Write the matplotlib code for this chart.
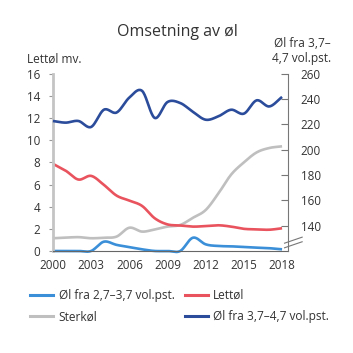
import numpy as np
import matplotlib
matplotlib.use("Agg")
import matplotlib.pyplot as plt
from matplotlib.lines import Line2D

plt.rcParams['font.family'] = ['Open Sans', 'DejaVu Sans']

#------------------------------------------------------------------------------
# Data
#------------------------------------------------------------------------------
years = list(range(2000, 2019))

# left axis (Lettøl mv.)
ol_27_37 = [0.0, 0.0, 0.0, 0.0, 0.84, 0.55, 0.35, 0.15, 0.0, 0.0,
            0.0, 1.2, 0.6, 0.45, 0.42, 0.35, 0.3, 0.25, 0.15]
lettol = [7.87, 7.25, 6.45, 6.78, 5.97, 5.0, 4.55, 4.07, 2.95, 2.4,
          2.3, 2.2, 2.25, 2.32, 2.2, 2.0, 1.95, 1.92, 2.05]
sterkol = [1.15, 1.2, 1.25, 1.15, 1.2, 1.3, 2.1, 1.75, 1.95, 2.2,
           2.35, 3.0, 3.7, 5.2, 6.9, 8.0, 8.9, 9.3, 9.45]
# right axis (Øl fra 3,7-4,7 vol.pst.)
ol_37_47 = [222.7, 221.4, 222.7, 218.0, 231.6, 229.4, 241.2, 246.5, 225.1, 237.7,
            236.9, 229.9, 223.7, 226.4, 231.6, 228.5, 239.0, 234.2, 241.7]

left_ticks = [0, 2, 4, 6, 8, 10, 12, 14, 16]
right_ticks = [140, 160, 180, 200, 220, 240, 260]
x_ticks = [2000, 2003, 2006, 2009, 2012, 2015, 2018]

c_lblue = '#3a8fd8'
c_red = '#e9535d'
c_gray = '#bfbfbf'
c_dblue = '#2b4c9b'
c_txt = '#333333'


def smooth(x, y, n=20):
  # catmull-rom curve through the annual points (for drawing only)
  x = np.asarray(x, float)
  y = np.asarray(y, float)
  m = np.zeros_like(y)
  m[1:-1] = (y[2:] - y[:-2]) / 2.
  m[0] = y[1] - y[0]
  m[-1] = y[-1] - y[-2]
  xs, ys = [], []
  for i in range(len(x) - 1):
    t = np.linspace(0, 1, n, endpoint=False)
    h00 = 2*t**3 - 3*t**2 + 1
    h10 = t**3 - 2*t**2 + t
    h01 = -2*t**3 + 3*t**2
    h11 = t**3 - t**2
    xs.append(x[i] + t*(x[i+1] - x[i]))
    ys.append(h00*y[i] + h10*m[i] + h01*y[i+1] + h11*m[i+1])
  xs.append([x[-1]])
  ys.append([y[-1]])
  return np.concatenate(xs), np.concatenate(ys)


fig = plt.figure(figsize=(3.53, 3.53), dpi=100)
ax = fig.add_axes([0.150, 0.289, 0.666, 0.502])
ax2 = ax.twinx()

lw = 1.9
for vals, col in [(sterkol, c_gray), (lettol, c_red), (ol_27_37, c_lblue)]:
  xs, ys = smooth(years, vals)
  ax.plot(xs, ys, color=col, lw=lw, solid_capstyle='butt', clip_on=False)
xs, ys = smooth(years, ol_37_47)
ax2.plot(xs, ys, color=c_dblue, lw=lw, solid_capstyle='butt', clip_on=False)

ax.set_xlim(2000, 2018.47)
ax.set_ylim(0, 16)
ax2.set_ylim(120, 260)

ax.set_xticks(x_ticks)
ax.set_yticks(left_ticks)
ax2.set_yticks(right_ticks)

fs = 8.4
ax.tick_params(axis='x', length=0, pad=6, labelsize=fs, labelcolor=c_txt)
ax.tick_params(axis='y', length=3, width=0.8, color='#999999', pad=6,
               labelsize=fs, labelcolor=c_txt)
ax2.tick_params(axis='y', direction='in', length=5, width=0.8, color='#777777',
                pad=9, labelsize=fs, labelcolor=c_txt)

for a in (ax, ax2):
  a.spines['top'].set_visible(False)
ax.spines['right'].set_visible(False)
ax2.spines['left'].set_visible(False)
ax2.spines['bottom'].set_visible(False)
ax.spines['left'].set_color('#c4c4c4')
ax.spines['left'].set_linewidth(2)
ax.spines['bottom'].set_color('#666666')
ax.spines['bottom'].set_linewidth(0.8)
ax2.spines['right'].set_color('#777777')
ax2.spines['right'].set_linewidth(0.8)

# axis break marks on the right axis
for yb in (0.056, 0.03):
  ax2.add_line(Line2D([0.985, 1.06], [yb - 0.012, yb + 0.022], transform=ax2.transAxes,
                      color='#777777', lw=0.8, clip_on=False))

fig.text(0.502, 0.910, 'Omsetning av øl', ha='center', va='center',
         fontsize=11.5, color=c_txt)
fig.text(0.077, 0.833, 'Lettøl mv.', ha='left', va='center', fontsize=8.6, color=c_txt)
fig.text(0.937, 0.855, 'Øl fra 3,7–\n4,7 vol.pst.', ha='right', va='center',
         fontsize=8.6, color=c_txt, linespacing=1.2)

handles = [Line2D([], [], color=c_lblue, lw=2.2),
           Line2D([], [], color=c_gray, lw=2.2),
           Line2D([], [], color=c_red, lw=2.2),
           Line2D([], [], color=c_dblue, lw=2.2)]
labels = ['Øl fra 2,7–3,7 vol.pst.', 'Sterkøl', 'Lettøl', 'Øl fra 3,7–4,7 vol.pst.']
leg = fig.legend(handles, labels, ncol=2, loc='upper left', bbox_to_anchor=(0.085, 0.181),
                 frameon=False, fontsize=8.6, handlelength=1.95, handletextpad=0.45,
                 columnspacing=0.85, labelspacing=0.7, borderaxespad=0, borderpad=0)
for t in leg.get_texts():
  t.set_color(c_txt)

fig.savefig('out.png', dpi=100)
